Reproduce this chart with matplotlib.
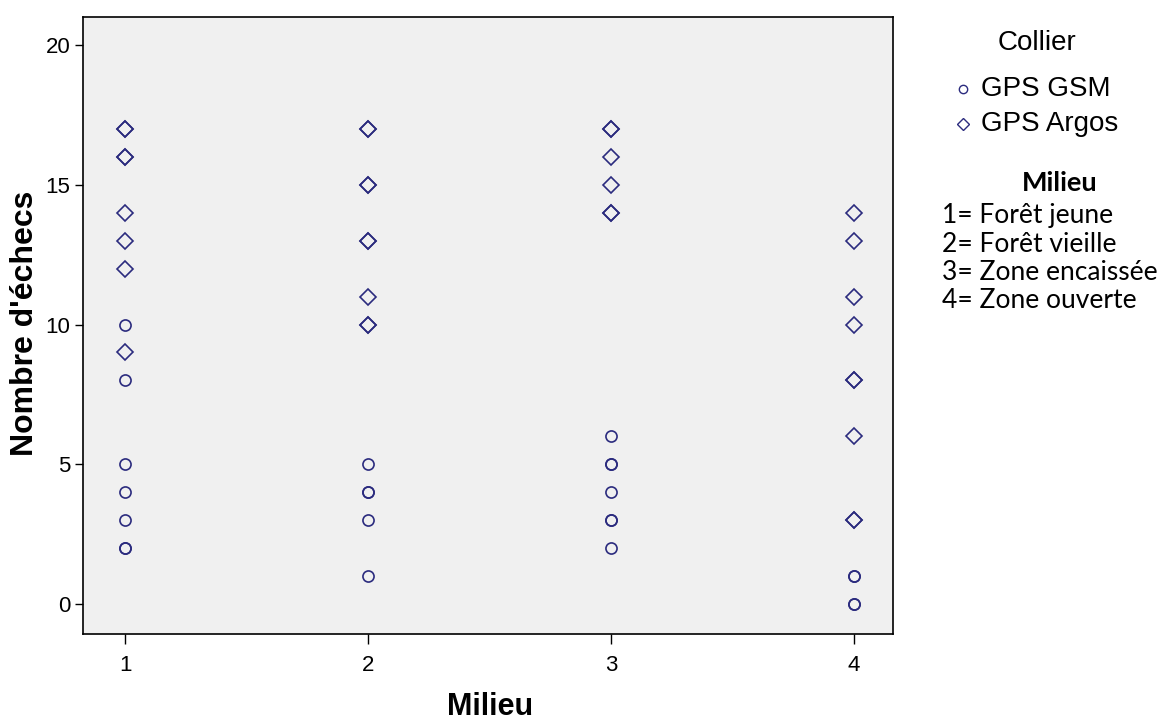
import numpy as np
import matplotlib
matplotlib.use("Agg")
import matplotlib.pyplot as plt
from matplotlib.lines import Line2D

# nombre d'echecs par milieu (doublons = points superposes)
gsm_milieu = [1, 1, 1, 1, 1, 1, 1, 2, 2, 2, 2, 2, 3, 3, 3, 3, 3, 3, 3, 4, 4, 4, 4]
gsm_echecs = [2, 2, 3, 4, 5, 8, 10, 1, 3, 4, 4, 5, 2, 3, 3, 4, 5, 5, 6, 0, 0, 1, 1]

argos_milieu = [1, 1, 1, 1, 1, 1, 1, 1,
                2, 2, 2, 2, 2, 2, 2, 2, 2,
                3, 3, 3, 3, 3, 3,
                4, 4, 4, 4, 4, 4, 4, 4, 4]
argos_echecs = [9, 12, 13, 14, 16, 16, 17, 17,
                10, 10, 11, 13, 13, 15, 15, 17, 17,
                14, 14, 15, 16, 17, 17,
                3, 3, 6, 8, 8, 10, 11, 13, 14]

milieux = [1, 2, 3, 4]
noms_colliers = ["GPS GSM", "GPS Argos"]
noms_milieu = ["1= Forêt jeune", "2= Forêt vieille", "3= Zone encaissée", "4= Zone ouverte"]

couleur = "#2b2b7e"
plt.rcParams['font.family'] = ['Liberation Sans', 'DejaVu Sans']

W, H = 1161, 721
fig = plt.figure(figsize=(W/100, H/100), dpi=100)
ax = fig.add_axes([83/W, 1-634/H, (893-83)/W, (634-17)/H])
ax.set_facecolor("#f0f0f0")

ax.plot(gsm_milieu, gsm_echecs, linestyle="none", marker="o", markersize=8,
        markerfacecolor="none", markeredgecolor=couleur, markeredgewidth=1.2)
ax.plot(argos_milieu, argos_echecs, linestyle="none", marker="D", markersize=8,
        markerfacecolor="none", markeredgecolor=couleur, markeredgewidth=1.2)

ax.set_xlim(0.827, 4.16)
ax.set_ylim(-1.07, 21.0)
ax.set_xticks(milieux)
ax.set_yticks([0, 5, 10, 15, 20])
ax.tick_params(axis="y", length=6, width=1, labelsize=16, pad=3)
ax.tick_params(axis="x", length=7, width=1, labelsize=16, pad=8)
for s in ax.spines.values():
    s.set_linewidth(1.2)

# titres des axes
fig.text(490/W, 1-707/H, "Milieu", fontsize=22, fontweight="bold", ha="center", va="center")
fig.text(25/W, 1-323/H, "Nombre d'échecs", fontsize=23, fontweight="bold",
         ha="center", va="center", rotation=90)

# legende Collier
fig.text(1037/W, 1-43/H, "Collier", fontsize=20, ha="center", va="center")
marqueurs = ["o", "D"]
tailles = [6, 6.5]
for i, nom in enumerate(noms_colliers):
    y = 1-(89+35*i)/H
    fig.add_artist(Line2D([963/W], [y], linestyle="none", marker=marqueurs[i],
                          markersize=tailles[i], markerfacecolor="none",
                          markeredgecolor=couleur, markeredgewidth=1.0))
    fig.text(981/W, y, nom, fontsize=20, ha="left", va="center")

# legende Milieu
fig.text(1060/W, 1-183/H, "Milieu", fontsize=19.5, fontweight="bold",
         ha="center", va="center", family=["Lato", "DejaVu Sans"])
for i, nom in enumerate(noms_milieu):
    fig.text(942/W, 1-(216+28*i)/H, nom, fontsize=19, ha="left", va="center",
             family=["Lato", "DejaVu Sans"])

fig.savefig("out.png", dpi=100)
